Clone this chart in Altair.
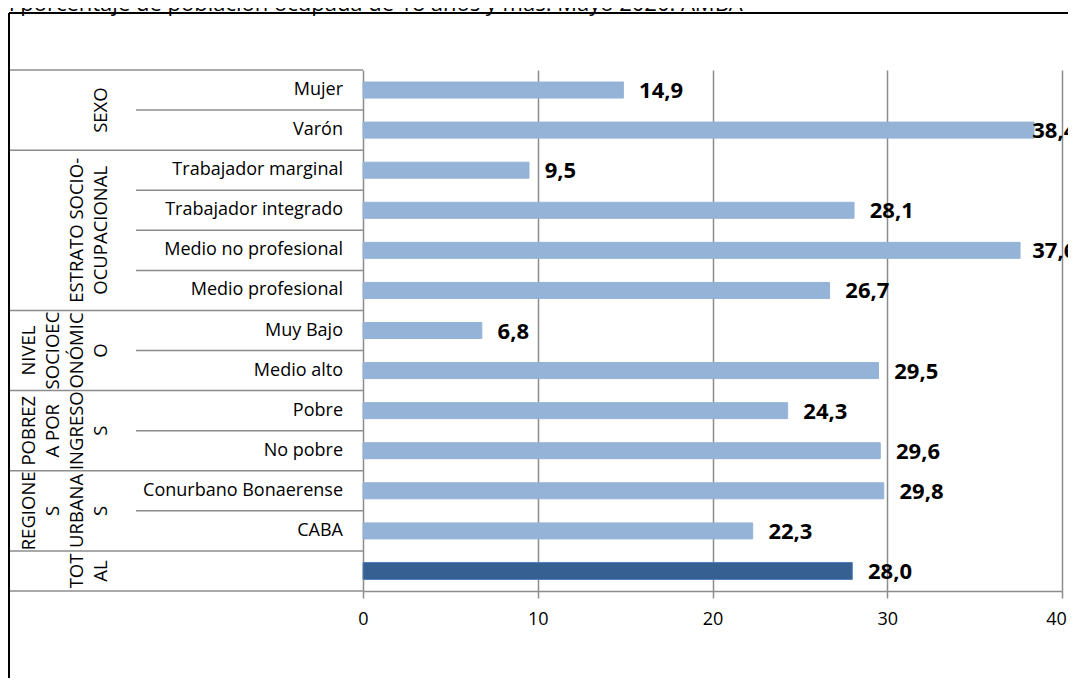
import altair as alt
import pandas as pd

TITLE = "n porcentaje de población ocupada de 18 años y más. Mayo 2020. AMBA"

categories = ["Mujer", "Varón ", "Trabajador marginal", "Trabajador integrado",
              "Medio no profesional", "Medio profesional", "Muy Bajo", "Medio alto",
              "Pobre", "No pobre", "Conurbano Bonaerense", "CABA", ""]
values = [14.9, 38.4, 9.5, 28.1, 37.6, 26.7, 6.8, 29.5, 24.3, 29.6, 29.8, 22.3, 28.0]

group_lines = [["SEXO"], ["ESTRATO SOCIO-", "OCUPACIONAL"],
               ["NIVEL", "SOCIOEC", "ONÓMIC", "O"],
               ["POBREZ", "A POR", "INGRESO", "S"],
               ["REGIONE", "S", "URBANA", "S"], ["TOT", "AL"]]
group_sizes = [2, 4, 2, 2, 2, 1]

x_ticks = [0, 10, 20, 30, 40]

FONT = "Open Sans"
LIGHT = "#95B3D7"
DARK = "#376092"
GRID = "#8C8C8C"

n = len(categories)
bars = pd.DataFrame({
    "cat": categories,
    "value": values,
    "pos": [i + 0.5 for i in range(n)],
    "is_total": [i == n - 1 for i in range(n)],
})

grows = []
brows = []
start = 0
for lines, size in zip(group_lines, group_sizes):
    mid = start + size / 2
    for i, t in enumerate(lines):
        grows.append({"t": t, "k": len(lines) - 1 - i, "ymid": mid})
    brows.append({"b": start, "kind": "group"})
    for j in range(1, size):
        brows.append({"b": start + j, "kind": "sub"})
    start += size
brows.append({"b": start, "kind": "group"})
groups = pd.DataFrame(grows)
bounds = pd.DataFrame(brows)

yscale = alt.Scale(domain=[0, n], reverse=True, nice=False, zero=False, padding=0)
xscale = alt.Scale(domain=[0, 40], nice=False, padding=0)

xaxis = alt.Axis(values=x_ticks, grid=True, gridColor=GRID, gridWidth=1.5,
                 tickSize=7, tickColor=GRID, tickWidth=1.5,
                 domainColor=GRID, domainWidth=1.5, labelFlush=False,
                 labelOffset={"condition": {"test": "datum.value == 40", "value": -6},
                              "value": 0},
                 labelFont=FONT, labelFontSize=18, labelColor="#000000",
                 labelPadding=12, title=None)

one = pd.DataFrame({"k": [0]})

frame_left = alt.Chart(one).mark_rule(color="#000000", strokeWidth=2).encode(
    x=alt.value(-354), y=alt.value(-57), y2=alt.value(640))
frame_top = alt.Chart(one).mark_rule(color="#000000", strokeWidth=2).encode(
    x=alt.value(-354), x2=alt.value(720), y=alt.value(-57))

group_rules = alt.Chart(bounds).transform_filter("datum.kind == 'group'").mark_rule(
    color=GRID, strokeWidth=1.5).encode(
    y=alt.Y("b:Q", scale=yscale, axis=None), x=alt.value(-354), x2=alt.value(0))
sub_rules = alt.Chart(bounds).transform_filter("datum.kind == 'sub'").mark_rule(
    color=GRID, strokeWidth=1.5).encode(
    y=alt.Y("b:Q", scale=yscale, axis=None), x=alt.value(-227), x2=alt.value(0))

bar_layer = alt.Chart(bars).mark_bar(orient="horizontal").encode(
    x=alt.X("value:Q", scale=xscale, axis=xaxis),
    x2=alt.datum(0),
    y=alt.Y("pos:Q", scale=yscale, axis=None),
    color=alt.condition("datum.is_total", alt.value(DARK), alt.value(LIGHT)),
    stroke=alt.condition("datum.is_total", alt.value("#4F81BD"), alt.value(LIGHT)),
    size=alt.condition("datum.is_total", alt.value(17), alt.value(16)),
)

value_text = alt.Chart(bars).transform_calculate(
    lx="min(datum.value + 0.9, 38.3)",
    lab="replace(format(datum.value, '.1f'), '.', ',')",
).mark_text(align="left", baseline="middle", dy=1, font=FONT, fontSize=22,
            fontWeight="bold", color="#000000").encode(
    x=alt.X("lx:Q", scale=xscale, axis=xaxis),
    y=alt.Y("pos:Q", scale=yscale, axis=None),
    text="lab:N",
)

cat_text = alt.Chart(bars).mark_text(align="right", baseline="middle", font=FONT,
                                     fontSize=18, color="#000000").encode(
    x=alt.value(-20),
    y=alt.Y("pos:Q", scale=yscale, axis=None),
    text="cat:N",
)

group_layers = []
for k in range(4):
    group_layers.append(
        alt.Chart(groups).transform_filter(f"datum.k == {k}").mark_text(
            angle=270, align="center", baseline="middle", font=FONT, fontSize=18.5,
            color="#000000").encode(
            x=alt.value(-262 - 24 * k),
            y=alt.Y("ymid:Q", scale=yscale, axis=None),
            text="t:N",
        )
    )

title_layer = alt.Chart(one).mark_text(
    align="left", baseline="alphabetic", font=FONT, fontSize=22, color="#000000",
    text=TITLE).encode(x=alt.value(-362), y=alt.value(-59))

chart = alt.layer(
    sub_rules, group_rules, bar_layer, value_text, cat_text, *group_layers,
    frame_left, frame_top, title_layer,
).properties(
    width=699, height=521,
    padding={"left": 355, "top": 62, "right": 6, "bottom": 87},
    autosize=alt.AutoSizeParams(type="none"),
    background="#FFFFFF",
).configure_view(stroke=None)

chart.save("out.html", embed_options={"renderer": "svg", "actions": False})
